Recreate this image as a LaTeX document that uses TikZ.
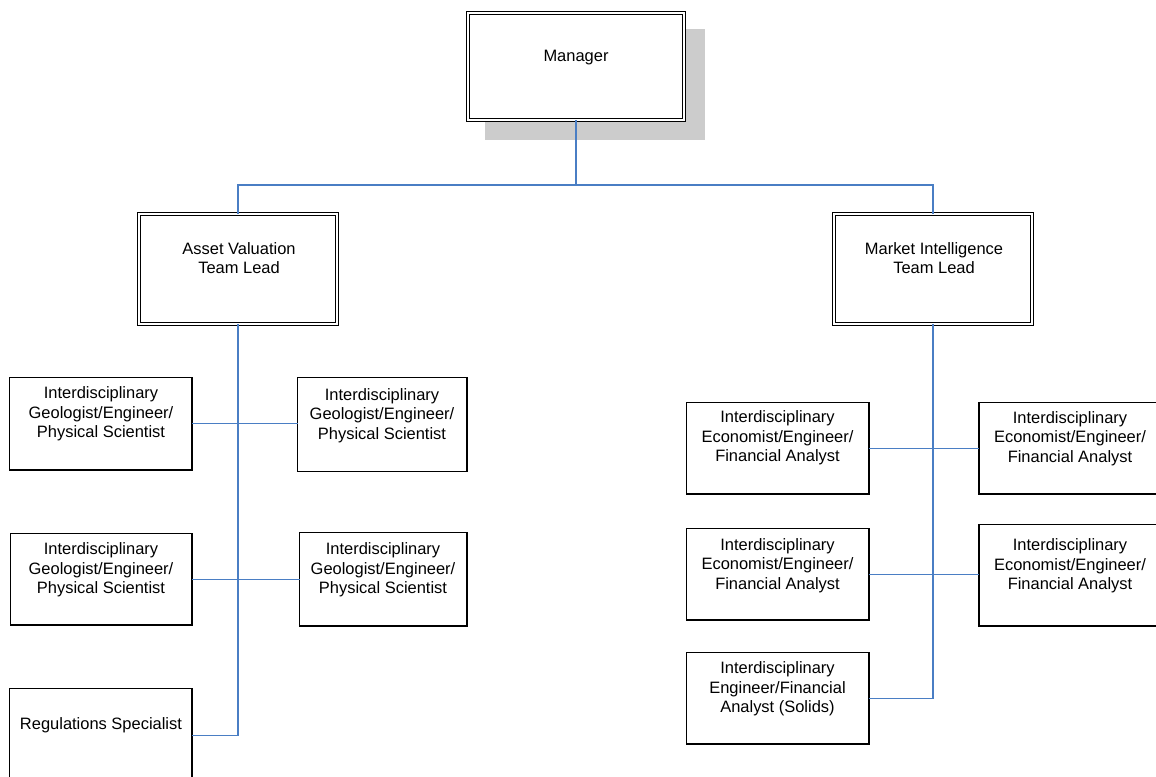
\documentclass[tikz,border=0pt]{standalone}
\usepackage{fontspec}
\setmainfont{Liberation Sans}
\usetikzlibrary{fit}
\definecolor{connblue}{RGB}{74,126,196}
\definecolor{shadowgray}{RGB}{204,204,204}
\tikzset{
  box/.style={draw=black, line width=0.9pt, fill=white, inner sep=0pt, outer sep=0pt},
  dbox/.style={draw=black, line width=0.85pt, double=white, double distance=1.6pt, fill=white, inner sep=0pt, outer sep=0pt},
  shadowbox/.style={fill=shadowgray, draw=none, inner sep=0pt, outer sep=0pt},
  txt/.style={align=center, inner sep=0pt, font=\fontsize{12.35}{14.6}\selectfont},
  conn/.style={draw=connblue, line width=1pt}
}
\begin{document}
\begin{tikzpicture}[x=0.75pt, y=-0.75pt]
\useasboundingbox (0,0) rectangle (1156,776);
\clip (0,0) rectangle (1156,776);
% shadow
\node[shadowbox, fit={(485,29) (705,140)}] (mgrshadow) {};
% boxes
\node[dbox, fit={(468,13) (684,120)}] (mgr) {};
\node[dbox, fit={(139,214) (337,324)}] (asset) {};
\node[dbox, fit={(834,214) (1032,324)}] (market) {};
\node[box, fit={(9.5,377.5) (192,470)}] (l1) {};
\node[box, fit={(297.5,377.5) (467,471.5)}] (r1) {};
\node[box, fit={(10.5,533.5) (192,625)}] (l2) {};
\node[box, fit={(299.5,532.5) (467,626)}] (r2) {};
\node[box, fit={(9.5,688.5) (192,782)}] (l3) {};
\node[box, fit={(686.5,402.5) (869,494)}] (a1) {};
\node[box, fit={(979,402.5) (1161,494)}] (b1) {};
\node[box, fit={(686.5,528.5) (869,620)}] (a2) {};
\node[box, fit={(979,524.5) (1161,626)}] (b2) {};
\node[box, fit={(686.5,652.5) (869,744)}] (a3) {};
% texts
\node[txt] (tmgr) at (576,57.5) {Manager};
\node[txt] (tasset) at (239,258) {Asset Valuation\\Team Lead};
\node[txt] (tmarket) at (934,258) {Market Intelligence\\Team Lead};
\node[txt] (tl1) at (101,414) {Interdisciplinary\\Geologist/Engineer/\\Physical Scientist};
\node[txt] (tr1) at (382,415.5) {Interdisciplinary\\Geologist/Engineer/\\Physical Scientist};
\node[txt] (tl2) at (101,570) {Interdisciplinary\\Geologist/Engineer/\\Physical Scientist};
\node[txt] (tr2) at (383,570) {Interdisciplinary\\Geologist/Engineer/\\Physical Scientist};
\node[txt] (tl3) at (101,725.5) {Regulations Specialist};
\node[txt] (ta1) at (777.5,438) {Interdisciplinary\\Economist/Engineer/\\Financial Analyst};
\node[txt] (tb1) at (1070,438.5) {Interdisciplinary\\Economist/Engineer/\\Financial Analyst};
\node[txt] (ta2) at (777.5,565.5) {Interdisciplinary\\Economist/Engineer/\\Financial Analyst};
\node[txt] (tb2) at (1070,566) {Interdisciplinary\\Economist/Engineer/\\Financial Analyst};
\node[txt] (ta3) at (777.5,689) {Interdisciplinary\\Engineer/Financial\\Analyst (Solids)};
% connectors
\coordinate (bus) at (576,185);
\draw[conn] (mgr.south) -- (bus);
\draw[conn] (asset.north) |- (bus) -| (market.north);
\draw[conn] (asset.south) |- (l3.east);
\draw[conn] (l1.east) -- (l1.east -| r1.west);
\draw[conn] (l2.east) -- (l2.east -| r2.west);
\draw[conn] (market.south) |- (a3.east);
\draw[conn] (a1.east) -- (a1.east -| b1.west);
\draw[conn] (a2.east) -- (a2.east -| b2.west);
\end{tikzpicture}
\end{document}
